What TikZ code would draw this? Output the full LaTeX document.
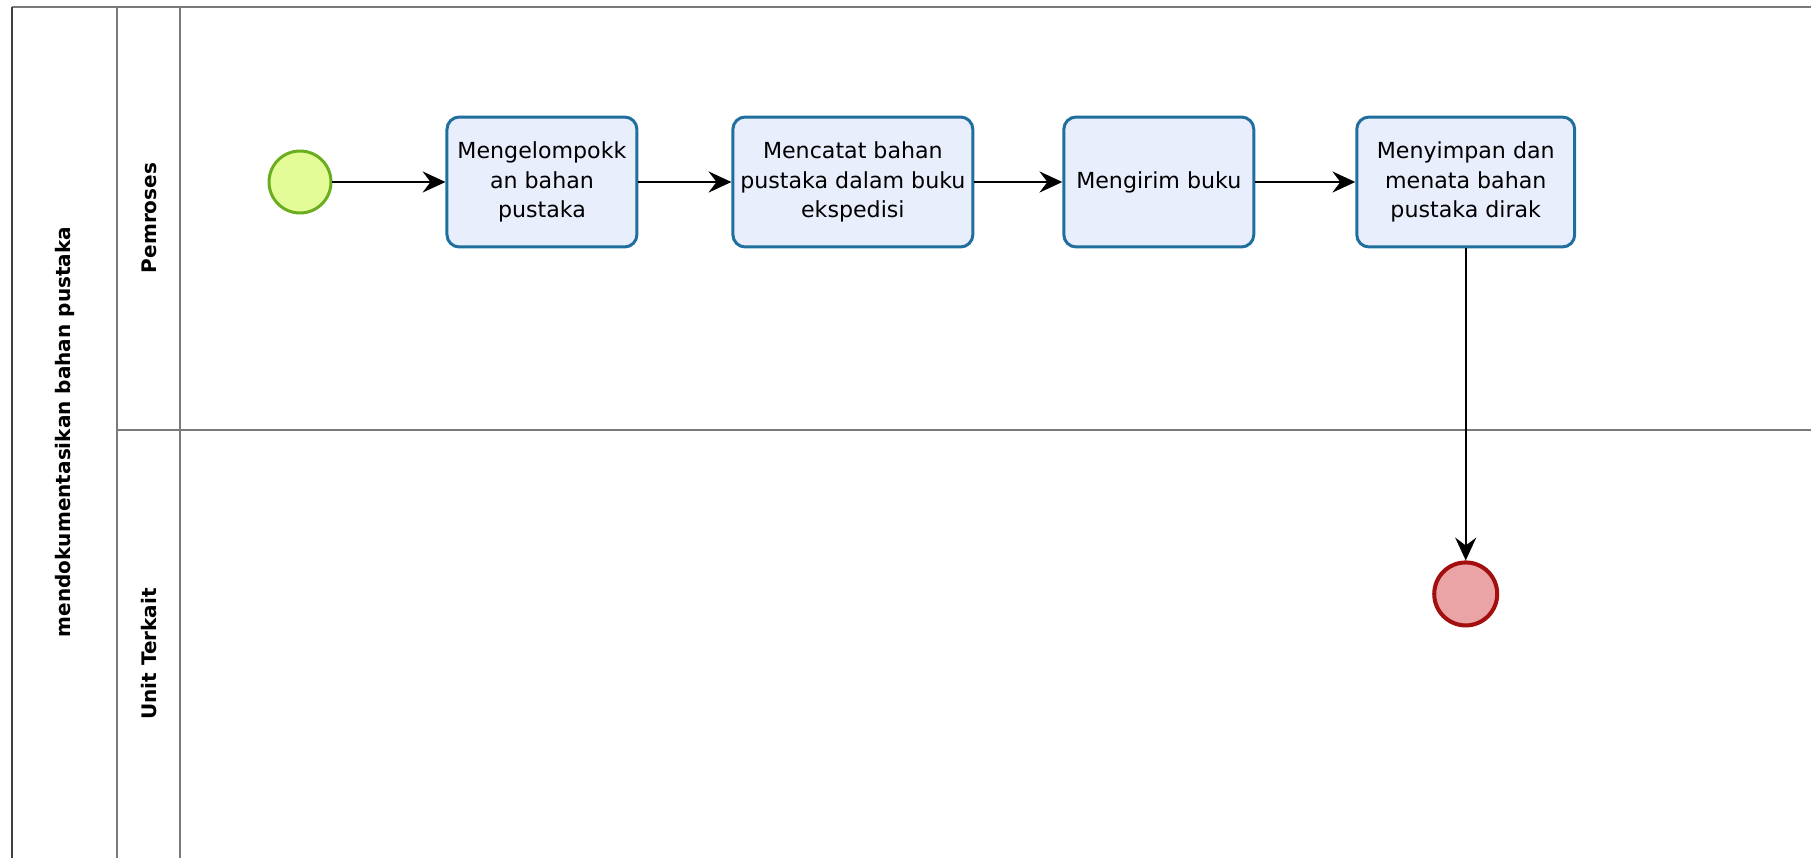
\documentclass[tikz,border=0pt]{standalone}
\usepackage{fontspec}
\setmainfont{DejaVu Sans}
\usepackage{xcolor}
\usepackage{tikz}
\usetikzlibrary{arrows.meta,positioning}

\definecolor{taskfill}{HTML}{E9EEFD}
\definecolor{taskline}{HTML}{1F6E9E}
\definecolor{startfill}{HTML}{E4FC98}
\definecolor{startline}{HTML}{6AAE1F}
\definecolor{endfill}{HTML}{EBA4A6}
\definecolor{endline}{HTML}{A30E0E}
\definecolor{laneline}{HTML}{7A7A7A}

\tikzset{
    task/.style={draw=taskline, line width=1.7pt, rounded corners=7pt, fill=taskfill, minimum height=2.6cm, align=center, font=\fontsize{12.6}{17}\selectfont, inner sep=2pt},
    flow/.style={-{Stealth[length=13pt,width=12pt,inset=4.5pt]}, line width=1.1pt},
    lanetitle/.style={rotate=90, font=\fontsize{11.4}{14}\selectfont\bfseries}
}

\begin{document}
\begin{tikzpicture}[x=0.02cm, y=-0.02cm]
        \useasboundingbox (0,0) rectangle (1811,858);

        % Pool and lanes (open to the right and bottom)
        \draw[line width=1.2pt, laneline] (12,7) -- (1811,7);
        \draw[line width=1.2pt, black!75] (12,7) -- (12,858);
        \draw[line width=1.2pt, laneline] (117,7) -- (117,858);
        \draw[line width=1.2pt, laneline] (180,7) -- (180,858);
        \draw[line width=1.2pt, laneline] (117,430) -- (1811,430);

        % Labels
        \node[lanetitle] (pool) at (65,432) {mendokumentasikan bahan pustaka};
        \node[lanetitle] (pemroses) at (149,218) {Pemroses};
        \node[lanetitle] (unit) at (149,654) {Unit Terkait};

        % Start event
        \node[draw=startline, fill=startfill, circle, line width=1.7pt, minimum size=1.24cm, inner sep=0pt] (start) at (300,182) {};

        % Tasks
        \node[task, minimum width=3.8cm, right=2.26cm of start] (kelompok) {Mengelompokk\\an bahan\\pustaka};
        \node[task, minimum width=4.8cm, right=1.86cm of kelompok] (catat) {Mencatat bahan\\pustaka dalam buku\\ekspedisi};
        \node[task, minimum width=3.8cm, right=1.76cm of catat] (kirim) {Mengirim buku};
        \node[task, minimum width=4.36cm, right=2.0cm of kirim] (simpan) {Menyimpan dan\\menata bahan\\pustaka dirak};

        % End event
        \node[draw=endline, fill=endfill, circle, line width=2.3pt, minimum size=1.26cm, inner sep=0pt, below=6.24cm of simpan] (end) {};

        % Arrows
        \draw[flow] (start) -- (kelompok);
        \draw[flow] (kelompok) -- (catat);
        \draw[flow] (catat) -- (kirim);
        \draw[flow] (kirim) -- (simpan);
        \draw[flow] (simpan) -- (end);
    \end{tikzpicture}
\end{document}
